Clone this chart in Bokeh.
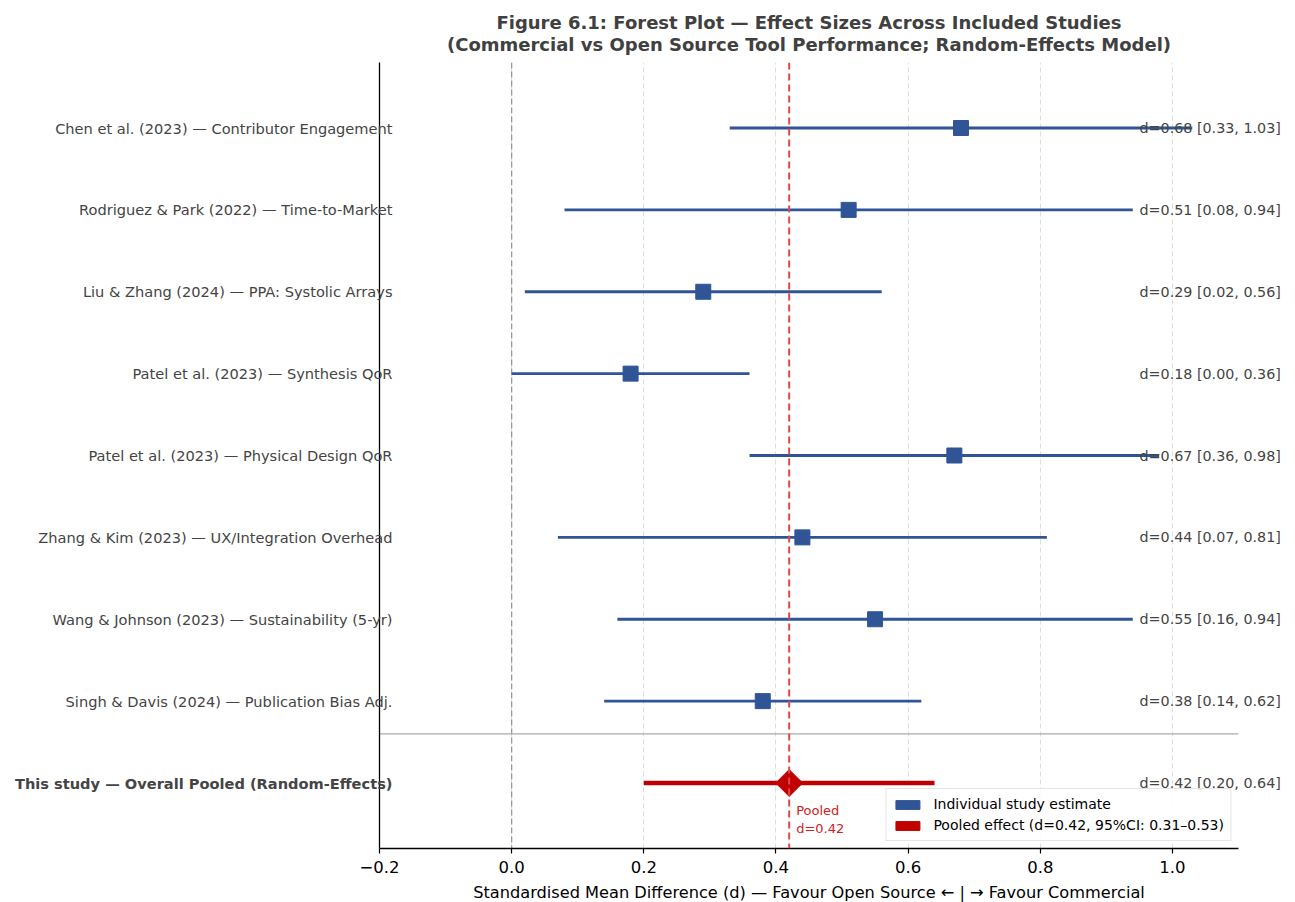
from bokeh.plotting import figure
from bokeh.models import (Range1d, FixedTicker, Span, Label, ColumnDataSource,
                          Legend, LegendItem, Title, LinearAxis, CustomJSTickFormatter)
from bokeh.embed import file_html
from bokeh.resources import INLINE

# ---- data -------------------------------------------------------------
studies = [
    "Chen et al. (2023) — Contributor Engagement",
    "Rodriguez & Park (2022) — Time-to-Market",
    "Liu & Zhang (2024) — PPA: Systolic Arrays",
    "Patel et al. (2023) — Synthesis QoR",
    "Patel et al. (2023) — Physical Design QoR",
    "Zhang & Kim (2023) — UX/Integration Overhead",
    "Wang & Johnson (2023) — Sustainability (5-yr)",
    "Singh & Davis (2024) — Publication Bias Adj.",
]
effects = [0.68, 0.51, 0.29, 0.18, 0.67, 0.44, 0.55, 0.38]
ci_low = [0.33, 0.08, 0.02, 0.00, 0.36, 0.07, 0.16, 0.14]
ci_high = [1.03, 0.94, 0.56, 0.36, 0.98, 0.81, 0.94, 0.62]

pooled_name = "This study — Overall Pooled (Random-Effects)"
pooled_d = 0.42
pooled_low = 0.20
pooled_high = 0.64
pooled_ci95_low = 0.31
pooled_ci95_high = 0.53

x_ticks = [-0.2, 0.0, 0.2, 0.4, 0.6, 0.8, 1.0]

# ---- styling ----------------------------------------------------------
BLUE = "#2F5597"
RED = "#C00000"
FONT = "DejaVu Sans"
TEXT_GREY = "#444444"

n = len(studies)
rows = [n - i for i in range(n)]  # first study on top, pooled row at 0
pooled_row = 0

p = figure(
    frame_width=859, frame_height=786,
    x_range=Range1d(-0.2, 1.1), y_range=Range1d(-0.8, 8.8),
    output_backend="svg", toolbar_location=None,
    min_border_left=379, min_border_right=57, min_border_top=62, min_border_bottom=54,
)
p.outline_line_color = None
p.background_fill_color = "white"
p.border_fill_color = "white"

p.add_layout(Title(
    text="Figure 6.1: Forest Plot — Effect Sizes Across Included Studies\n"
         "(Commercial vs Open Source Tool Performance; Random-Effects Model)",
    align="center", text_align="center", text_font=FONT, text_font_size="18px",
    text_font_style="bold", text_color="#404040", standoff=14, text_line_height=1.05),
    "above")

# x axis
p.xaxis.ticker = FixedTicker(ticks=x_ticks)
p.xaxis.formatter = CustomJSTickFormatter(code="return tick.toFixed(1).replace('-', '\\u2212');")
p.xaxis.major_label_text_font = FONT
p.xaxis.major_label_text_font_size = "16.5px"
p.xaxis.major_label_text_color = "black"
p.xaxis.major_label_standoff = 7
p.xaxis.axis_label = "Standardised Mean Difference (d) — Favour Open Source ← | → Favour Commercial"
p.xaxis.axis_label_text_font = FONT
p.xaxis.axis_label_text_font_size = "16.2px"
p.xaxis.axis_label_text_font_style = "normal"
p.xaxis.axis_label_text_color = "black"
p.xaxis.axis_label_standoff = 7
p.xaxis.major_tick_out = 5
p.xaxis.major_tick_in = 0
p.xaxis.minor_tick_line_color = None
p.xaxis.axis_line_color = "black"
p.xaxis.axis_line_width = 1.3
p.xaxis.major_tick_line_width = 1.2

# y axis: spine only
p.yaxis.ticker = FixedTicker(ticks=[])
p.yaxis.major_tick_line_color = None
p.yaxis.minor_tick_line_color = None
p.yaxis.major_label_text_font_size = "0px"
p.yaxis.axis_line_color = "black"
p.yaxis.axis_line_width = 1.3


def label_axis(ticks, overrides, where, standoff, size, style="normal"):
    ax = LinearAxis(ticker=FixedTicker(ticks=ticks), major_label_overrides=overrides,
                    axis_line_color=None, major_tick_line_color=None,
                    minor_tick_line_color=None, major_tick_out=0, major_tick_in=0,
                    major_label_standoff=standoff, major_label_text_font=FONT,
                    major_label_text_font_size=size, major_label_text_color=TEXT_GREY,
                    major_label_text_font_style=style)
    p.add_layout(ax, where)
    return ax


# study names at the left, running slightly past the spine
NAME_SIZE = "14.6px"
NAME_OVERHANG = 13
WIDEST_NAME = 357  # rendered width of the longest study name, px
label_axis(rows, {r: s for r, s in zip(rows, studies)}, "left", -NAME_OVERHANG, NAME_SIZE)
# the bold pooled row name sits on an outer axis, pulled back to the same edge
label_axis([pooled_row], {pooled_row: pooled_name}, "left", -WIDEST_NAME, NAME_SIZE,
           style="bold")

# effect size summaries on the right, starting inside the frame
summaries = {r: f"d={d:.2f} [{lo:.2f}, {hi:.2f}]"
             for r, d, lo, hi in zip(rows, effects, ci_low, ci_high)}
summaries[pooled_row] = f"d={pooled_d:.2f} [{pooled_low:.2f}, {pooled_high:.2f}]"
label_axis(rows + [pooled_row], summaries, "right", -99, "14.3px")

# grid
p.xgrid.ticker = FixedTicker(ticks=x_ticks)
p.xgrid.grid_line_color = "#dddddd"
p.xgrid.grid_line_dash = "5 3"
p.xgrid.grid_line_width = 1
p.ygrid.grid_line_color = None

# reference lines
p.add_layout(Span(location=0.0, dimension="height", line_color="#999999",
                  line_dash="6 3", line_width=1.3, level="underlay"))
p.add_layout(Span(location=pooled_row + 0.6, dimension="width", line_color="#aaaaaa",
                  line_width=1.2, level="underlay"))

# study intervals and point estimates
src = ColumnDataSource(dict(y=rows, d=effects, lo=ci_low, hi=ci_high))
p.segment(x0="lo", y0="y", x1="hi", y1="y", source=src, line_color=BLUE, line_width=2.8)
p.scatter(x="d", y="y", source=src, marker="square", size=15,
          fill_color=BLUE, line_color=BLUE)

# pooled estimate
p.add_layout(Span(location=pooled_d, dimension="height", line_color="#E04848",
                  line_dash="7 4", line_width=2))
p.segment(x0=[pooled_low], y0=[pooled_row], x1=[pooled_high], y1=[pooled_row],
          line_color=RED, line_width=4.5)
p.scatter(x=[pooled_d], y=[pooled_row], marker="square", angle=0.785398, size=19,
          fill_color=RED, line_color=RED)
p.add_layout(Label(x=pooled_d, y=pooled_row, x_offset=7, y_offset=-20,
                   text=f"Pooled\nd={pooled_d:.2f}", text_font=FONT, text_font_size="13px",
                   text_color="#D42020", text_align="left", text_baseline="top"))

# legend swatches (no visible marks of their own)
nan = float("nan")
r_ind = p.quad(left=[nan], right=[nan], top=[nan], bottom=[nan], fill_color=BLUE, line_color=BLUE)
r_pool = p.quad(left=[nan], right=[nan], top=[nan], bottom=[nan], fill_color=RED, line_color=RED)
legend = Legend(items=[
    LegendItem(label="Individual study estimate", renderers=[r_ind]),
    LegendItem(label=f"Pooled effect (d={pooled_d:.2f}, 95%CI: {pooled_ci95_low:.2f}\u2013{pooled_ci95_high:.2f})",
               renderers=[r_pool]),
], location="bottom_right")
legend.label_text_font = FONT
legend.label_text_font_size = "14px"
legend.label_text_color = "black"
legend.glyph_width = 30
legend.glyph_height = 11
legend.label_standoff = 11
legend.spacing = 3
legend.padding = 6
legend.margin = 7
legend.border_line_color = "#cccccc"
legend.border_line_width = 1
legend.background_fill_alpha = 0.85
legend.label_height = 18
p.add_layout(legend, "center")

open("out.html", "w").write(file_html(p, INLINE))
